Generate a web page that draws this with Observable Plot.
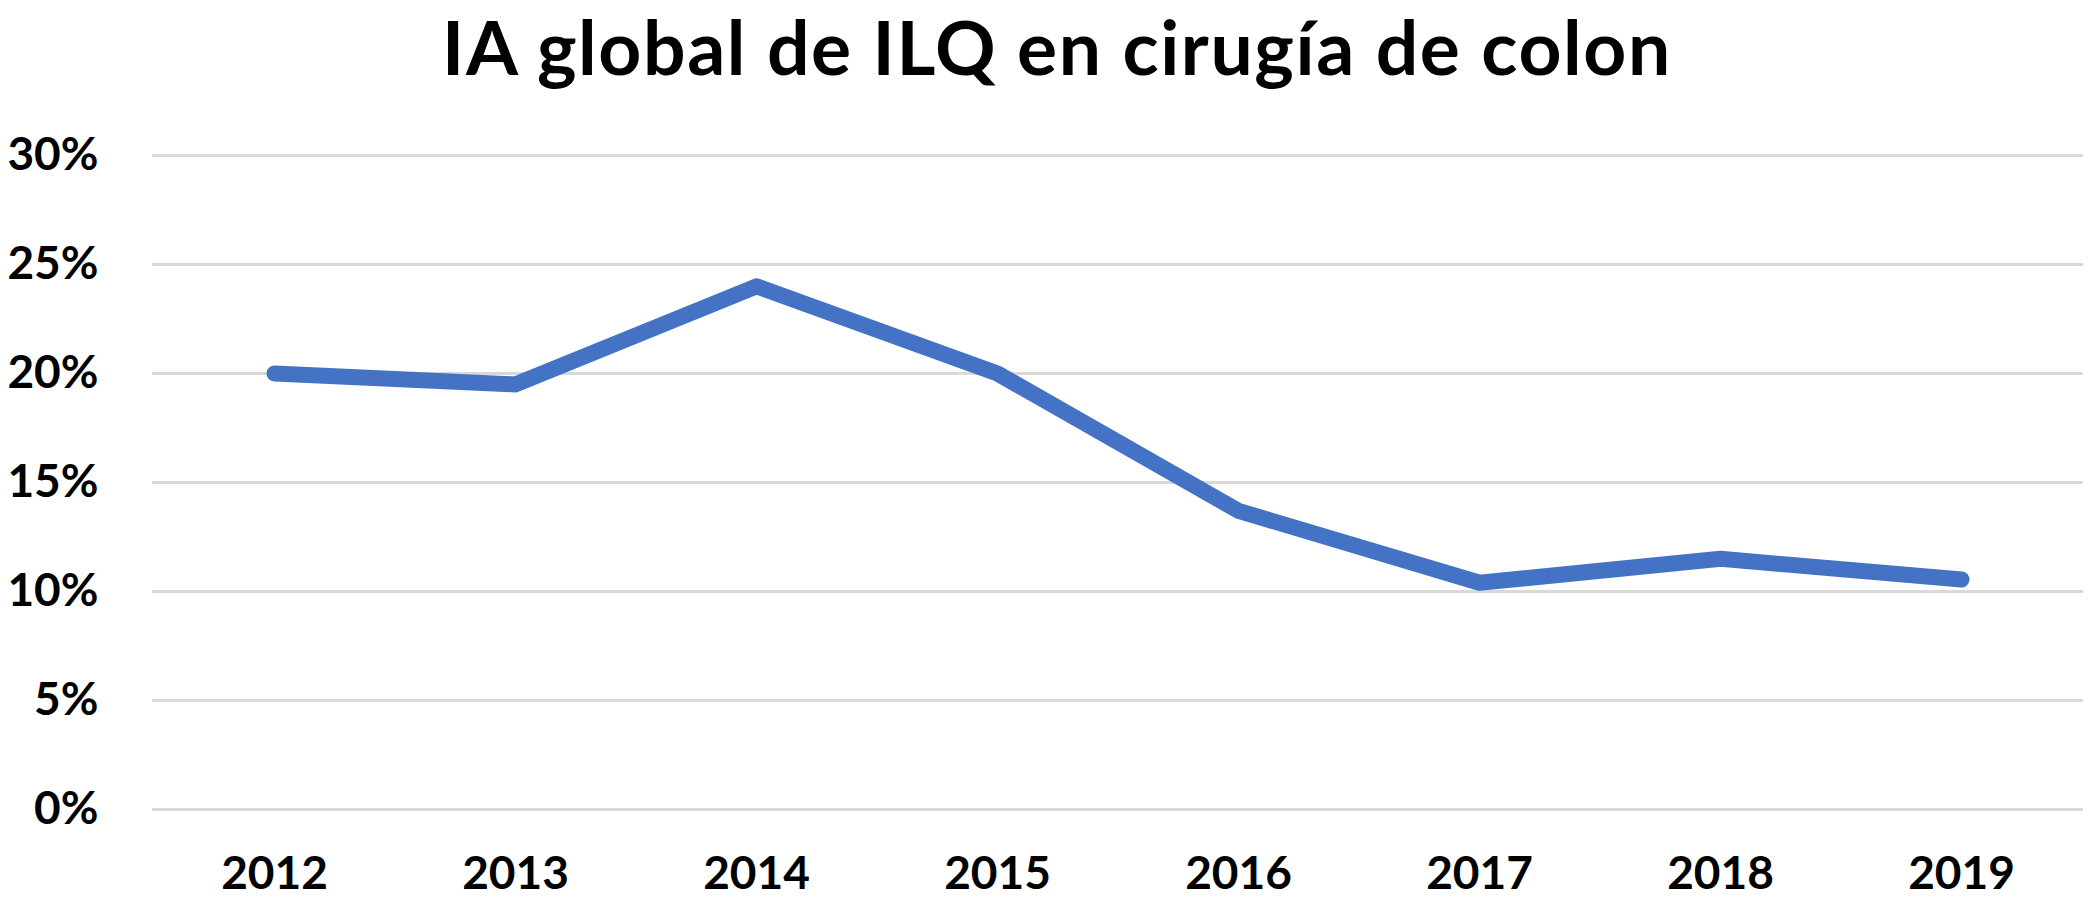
<!DOCTYPE html>
<html>
<head>
<meta charset="utf-8">
<script src="https://cdn.jsdelivr.net/npm/d3@7"></script>
<script src="https://cdn.jsdelivr.net/npm/@observablehq/plot@0.6"></script>
<style>
  body { margin: 0; background: #fff; width: 2091px; height: 901px; overflow: hidden; }
  #titulo {
    font-family: Lato, "Open Sans", sans-serif;
    font-weight: 700;
    font-size: 75px;
    letter-spacing: 1.6px;
    line-height: 92px;
    height: 100px;
    margin: 0;
    padding-left: 23px;
    box-sizing: border-box;
    text-align: center;
    color: #000;
  }
</style>
</head>
<body>
<div id="titulo">IA global de ILQ en cirugía de colon</div>
<div id="chart"></div>
<script>
// años y tasa de ILQ (lectura del gráfico)
const anios = ['2012', '2013', '2014', '2015', '2016', '2017', '2018', '2019']
const tasas = [0.200, 0.195, 0.240, 0.200, 0.137, 0.104, 0.115, 0.1055]
const ticksY = [0, 0.05, 0.10, 0.15, 0.20, 0.25, 0.30]

const datos = anios.map((a, i) => ({anio: a, tasa: tasas[i]}))

let chart = Plot.plot({
  width: 2091,
  height: 801,
  marginTop: 55,
  marginBottom: 92,
  marginLeft: 152,
  marginRight: 8,
  style: {fontFamily: 'Lato, "Open Sans", sans-serif', fontWeight: 700, fontSize: '46px', color: '#000'},
  x: {type: 'point', domain: anios, padding: 0.5},
  y: {domain: [0, 0.30]},
  marks: [
    Plot.gridY(ticksY, {stroke: '#d9d9d9', strokeOpacity: 1, strokeWidth: 3}),
    Plot.axisY(ticksY, {tickSize: 0, tickPadding: 54, tickFormat: d3.format('.0%'), label: null, fill: '#000'}),
    Plot.axisX({tickSize: 0, tickPadding: 47, label: null, fill: '#000'}),
    Plot.line(datos, {
      x: 'anio', y: 'tasa',
      stroke: '#4472c4', strokeWidth: 16,
      strokeLinecap: 'round', strokeLinejoin: 'round'
    })
  ]
})

d3.select('#chart').append(() => chart)
</script>
</body>
</html>
